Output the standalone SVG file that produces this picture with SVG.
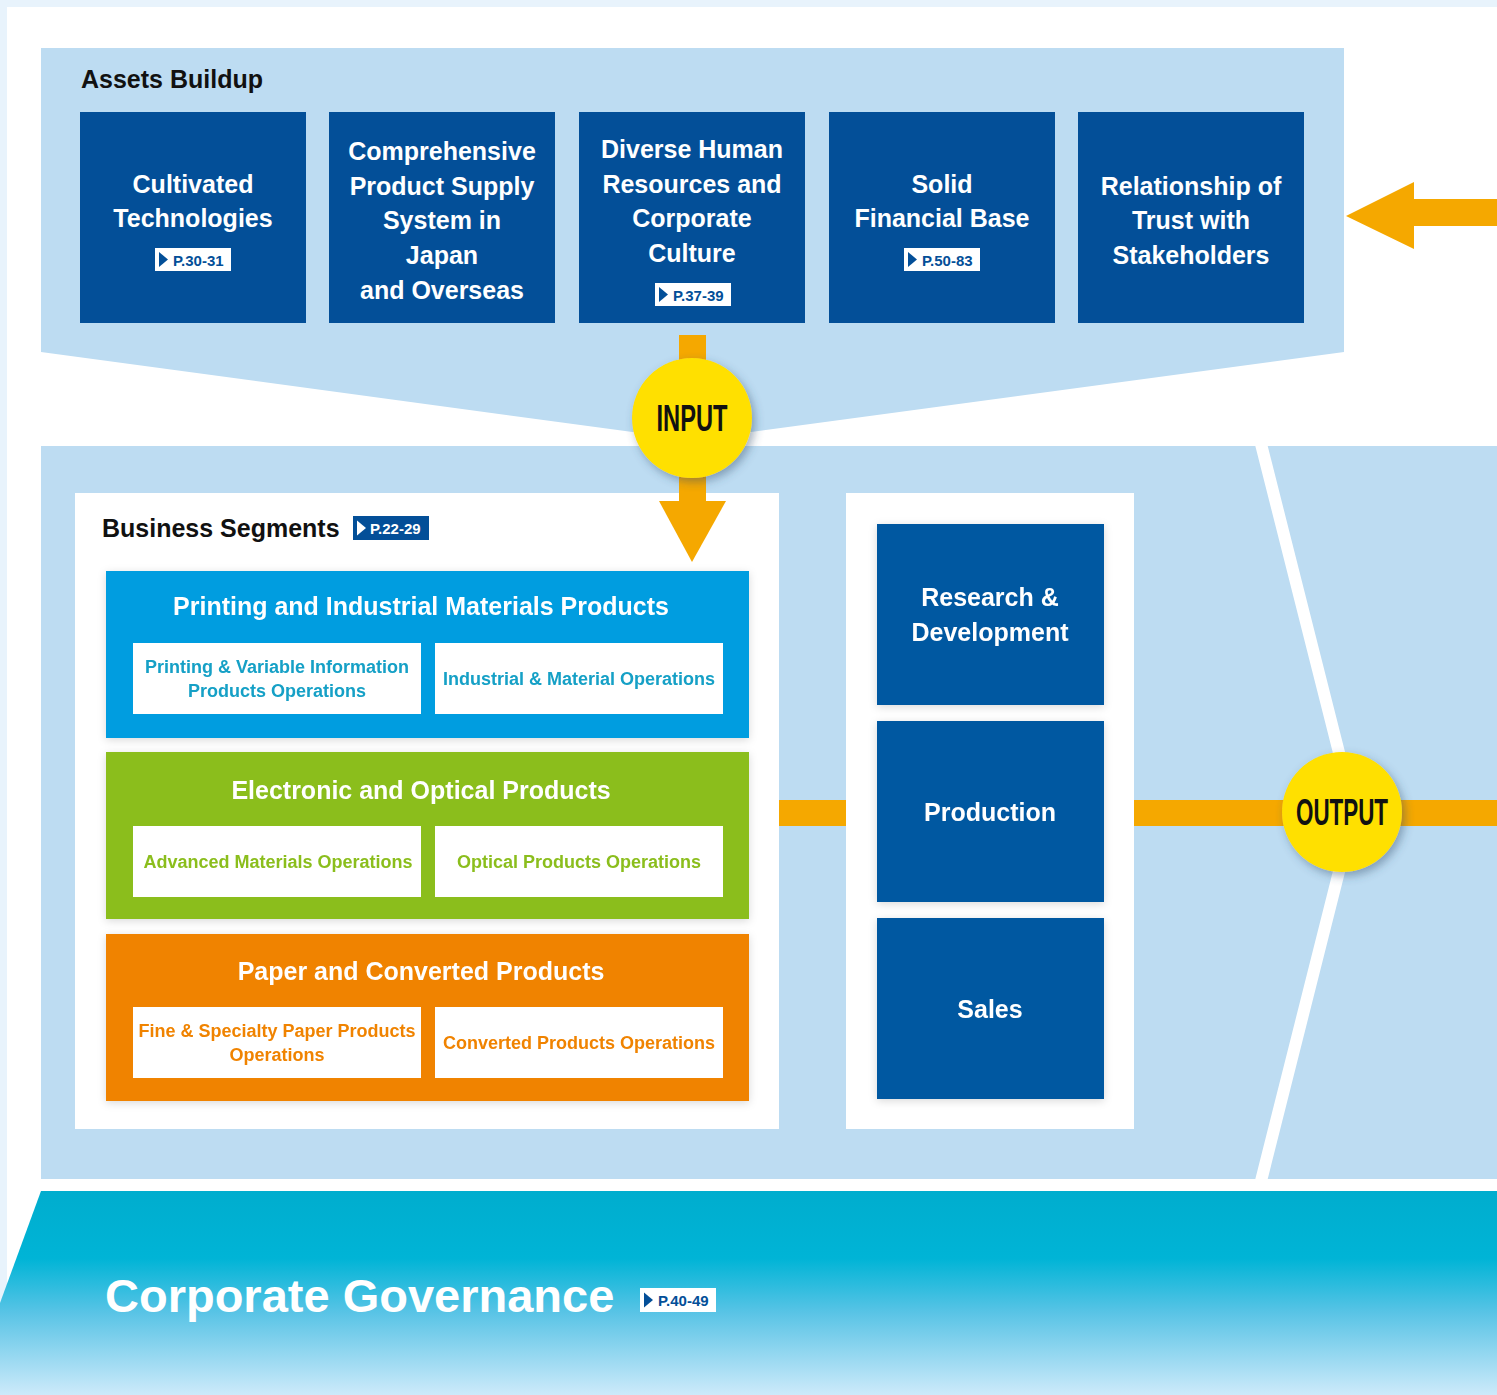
<svg xmlns="http://www.w3.org/2000/svg" width="1497" height="1395" viewBox="0 0 1497 1395">
<defs>
  <linearGradient id="gov" x1="0" y1="1191" x2="0" y2="1395" gradientUnits="userSpaceOnUse">
    <stop offset="0" stop-color="#00adce"/>
    <stop offset="0.33" stop-color="#00b4d6"/>
    <stop offset="0.6" stop-color="#5ac4e6"/>
    <stop offset="1" stop-color="#cdeafa"/>
  </linearGradient>
  <filter id="sh" x="-20%" y="-20%" width="140%" height="140%">
    <feDropShadow dx="3" dy="4" stdDeviation="5" flood-color="#35506a" flood-opacity="0.45"/>
  </filter>
  <filter id="soft" x="-10%" y="-10%" width="120%" height="120%">
    <feDropShadow dx="0" dy="2" stdDeviation="4" flood-color="#000" flood-opacity="0.15"/>
  </filter>
  <polygon id="tri" points="0,0 9,7.5 0,15"/>
  <style>
    text { font-family: "Liberation Sans", Arial, sans-serif; font-weight: bold; }
    .panel { fill: #bddcf2; }
    .asset { fill: #034f98; }
    .asset-t { fill: #ffffff; font-size: 25px; text-anchor: middle; }
    .ref-bg { fill: #ffffff; }
    .ref-t { fill: #034f98; font-size: 15px; }
    .head { fill: #111111; font-size: 25px; }
    .seg-t { fill: #ffffff; font-size: 25px; text-anchor: middle; }
    .sub { fill: #ffffff; }
    .sub-t { font-size: 18px; text-anchor: middle; }
    .func { fill: #0559a1; }
    .func-t { fill: #ffffff; font-size: 25px; text-anchor: middle; }
    .orange { fill: #f5a800; }
    .circle { fill: #ffe000; }
    .circ-t { fill: #111111; font-size: 36px; text-anchor: middle; }
  </style>
</defs>

<!-- background -->
<rect x="0" y="0" width="1497" height="1395" fill="#ffffff"/>
<rect x="0" y="0" width="1497" height="7" fill="#e8f3fc"/>
<rect x="0" y="0" width="7" height="1395" fill="#e8f3fc"/>

<!-- top panel -->
<polygon class="panel" points="41,48 1344,48 1344,352 692,440 41,352"/>
<!-- middle panel -->
<rect class="panel" x="41" y="446" width="1456" height="733"/>
<polyline points="1260,440 1354,812 1260,1185" fill="none" stroke="#ffffff" stroke-width="12"/>
<!-- governance band -->
<polygon points="41,1191 1497,1191 1497,1395 0,1395 0,1303" fill="url(#gov)"/>

<text class="head" x="81" y="88">Assets Buildup</text>

<g id="asset-1">
  <rect class="asset" x="80" y="112" width="226" height="211"/>
  <text class="asset-t" x="193" y="193">Cultivated</text>
  <text class="asset-t" x="193" y="227">Technologies</text>
  <rect class="ref-bg" x="155" y="248" width="76" height="23"/>
  <use href="#tri" x="159" y="252" fill="#034f98"/>
  <text class="ref-t" x="173" y="265.5">P.30-31</text>
</g>
<g id="asset-2">
  <rect class="asset" x="329" y="112" width="226" height="211"/>
  <text class="asset-t" x="442" y="160">Comprehensive</text>
  <text class="asset-t" x="442" y="195">Product Supply</text>
  <text class="asset-t" x="442" y="229">System in</text>
  <text class="asset-t" x="442" y="264">Japan</text>
  <text class="asset-t" x="442" y="299">and Overseas</text>
</g>
<g id="asset-3">
  <rect class="asset" x="579" y="112" width="226" height="211"/>
  <text class="asset-t" x="692" y="158">Diverse Human</text>
  <text class="asset-t" x="692" y="193">Resources and</text>
  <text class="asset-t" x="692" y="227">Corporate</text>
  <text class="asset-t" x="692" y="262">Culture</text>
  <rect class="ref-bg" x="655" y="283" width="76" height="23"/>
  <use href="#tri" x="659" y="287" fill="#034f98"/>
  <text class="ref-t" x="673" y="300.5">P.37-39</text>
</g>
<g id="asset-4">
  <rect class="asset" x="829" y="112" width="226" height="211"/>
  <text class="asset-t" x="942" y="193">Solid</text>
  <text class="asset-t" x="942" y="227">Financial Base</text>
  <rect class="ref-bg" x="904" y="248" width="76" height="23"/>
  <use href="#tri" x="908" y="252" fill="#034f98"/>
  <text class="ref-t" x="922" y="265.5">P.50-83</text>
</g>
<g id="asset-5">
  <rect class="asset" x="1078" y="112" width="226" height="211"/>
  <text class="asset-t" x="1191" y="195">Relationship of</text>
  <text class="asset-t" x="1191" y="229">Trust with</text>
  <text class="asset-t" x="1191" y="264">Stakeholders</text>
</g>

<!-- white panels -->
<g id="segments-panel">
  <rect x="75" y="493" width="704" height="636" fill="#ffffff"/>
  <text class="head" x="102" y="537">Business Segments</text>
  <rect x="353" y="516" width="76" height="24" fill="#034f98"/>
  <use href="#tri" x="357" y="520.5" fill="#ffffff"/>
  <text x="370" y="534" fill="#ffffff" font-size="15">P.22-29</text>
</g>
<g id="functions-panel">
  <rect x="846" y="493" width="288" height="636" fill="#ffffff"/>
</g>

<!-- connectors -->
<g id="connectors">
  <polygon class="orange" points="1346,216 1414,182 1414,199 1497,199 1497,226 1414,226 1414,249"/>
  <rect class="orange" x="679" y="335" width="27" height="170"/>
  <polygon class="orange" points="659,501 726,501 692,562"/>
  <rect class="orange" x="779" y="800" width="67" height="26"/>
  <rect class="orange" x="1134" y="800" width="363" height="26"/>
</g>

<g id="seg-printing" filter="url(#soft)">
  <rect x="106" y="571" width="643" height="167" fill="#009de0"/>
  <text class="seg-t" x="421" y="615">Printing and Industrial Materials Products</text>
  <rect class="sub" x="133" y="643" width="288" height="71"/>
  <rect class="sub" x="435" y="643" width="288" height="71"/>
  <text class="sub-t" x="277" y="672.5" fill="#14a0c6">Printing &amp; Variable Information</text>
  <text class="sub-t" x="277" y="696.5" fill="#14a0c6">Products Operations</text>
  <text class="sub-t" x="579" y="684.5" fill="#14a0c6">Industrial &amp; Material Operations</text>
</g>
<g id="seg-electronic" filter="url(#soft)">
  <rect x="106" y="752" width="643" height="167" fill="#8bbe1e"/>
  <text class="seg-t" x="421" y="799">Electronic and Optical Products</text>
  <rect class="sub" x="133" y="826" width="288" height="71"/>
  <rect class="sub" x="435" y="826" width="288" height="71"/>
  <text class="sub-t" x="278" y="867.5" fill="#8bbe1e">Advanced Materials Operations</text>
  <text class="sub-t" x="579" y="867.5" fill="#8bbe1e">Optical Products Operations</text>
</g>
<g id="seg-paper" filter="url(#soft)">
  <rect x="106" y="934" width="643" height="167" fill="#f08300"/>
  <text class="seg-t" x="421" y="980">Paper and Converted Products</text>
  <rect class="sub" x="133" y="1007" width="288" height="71"/>
  <rect class="sub" x="435" y="1007" width="288" height="71"/>
  <text class="sub-t" x="277" y="1036.5" fill="#f08300">Fine &amp; Specialty Paper Products</text>
  <text class="sub-t" x="277" y="1060.5" fill="#f08300">Operations</text>
  <text class="sub-t" x="579" y="1048.5" fill="#f08300">Converted Products Operations</text>
</g>

<g id="func-rd" filter="url(#soft)">
  <rect class="func" x="877" y="524" width="227" height="181"/>
  <text class="func-t" x="990" y="606">Research &amp;</text>
  <text class="func-t" x="990" y="641">Development</text>
</g>
<g id="func-production" filter="url(#soft)">
  <rect class="func" x="877" y="721" width="227" height="181"/>
  <text class="func-t" x="990" y="821">Production</text>
</g>
<g id="func-sales" filter="url(#soft)">
  <rect class="func" x="877" y="918" width="227" height="181"/>
  <text class="func-t" x="990" y="1018">Sales</text>
</g>

<g id="input">
  <circle class="circle" cx="692" cy="418" r="60" filter="url(#sh)"/>
  <text class="circ-t" x="692" y="431" textLength="71" lengthAdjust="spacingAndGlyphs">INPUT</text>
</g>
<g id="output">
  <circle class="circle" cx="1342" cy="812" r="60" filter="url(#sh)"/>
  <text class="circ-t" x="1342" y="825" textLength="92" lengthAdjust="spacingAndGlyphs">OUTPUT</text>
</g>

<g id="governance">
  <text x="105" y="1312" fill="#ffffff" font-size="47">Corporate Governance</text>
  <rect x="640" y="1288" width="76" height="24" fill="#ffffff"/>
  <use href="#tri" x="644" y="1292.5" fill="#034f98"/>
  <text class="ref-t" x="658" y="1306">P.40-49</text>
</g>
</svg>
